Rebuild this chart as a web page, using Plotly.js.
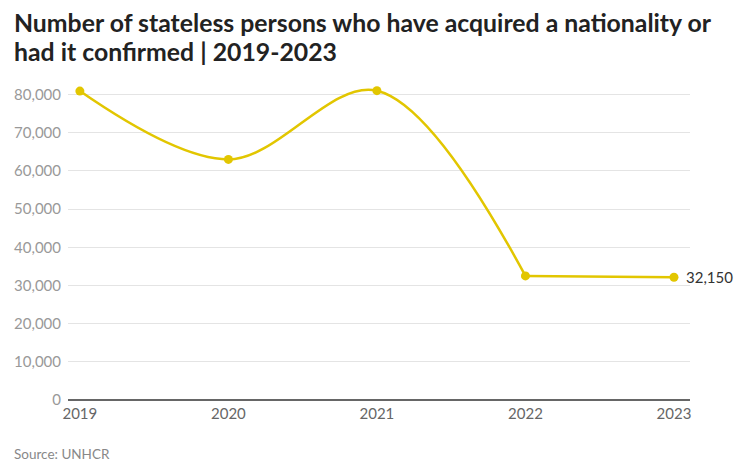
<!DOCTYPE html>
<html>
<head>
<meta charset="utf-8">
<script src="https://cdn.plot.ly/plotly-3.0.1.min.js"></script>
<style>html,body{margin:0;padding:0;background:#fff;}#chart{width:736px;height:461px;}</style>
</head>
<body>
<div id="chart"></div>
<script>
const years = [2019, 2020, 2021, 2022, 2023];
const persons = [80900, 63000, 81000, 32500, 32150];
const yTicks = [0, 10000, 20000, 30000, 40000, 50000, 60000, 70000, 80000];
const yTickLabels = ["0", "10,000", "20,000", "30,000", "40,000", "50,000", "60,000", "70,000", "80,000"];
const lastLabel = "32,150";
const titleLine1 = '<b>Number of stateless persons who have acquired a nationality or</b>';
const titleLine2 = '<b>had it confirmed | 2019-2023</b>';
const sourceText = 'Source: UNHCR';

const W = 736, H = 461, ML = 68, MR = 46, MT = 88, MB = 61;
const PW = W - ML - MR, PH = H - MT - MB;
const px = X => (X - ML) / PW;
const py = Y => (H - MB - Y) / PH;

const color = '#e2c600';
const curve = {
  x: years.slice(0, 4), y: persons.slice(0, 4), type: 'scatter', mode: 'lines',
  line: {color: color, width: 2.5, shape: 'spline', smoothing: 1},
  cliponaxis: false, hoverinfo: 'skip'
};
const flat = {
  x: years.slice(3), y: persons.slice(3), type: 'scatter', mode: 'lines',
  line: {color: color, width: 2.5},
  cliponaxis: false, hoverinfo: 'skip'
};
const pts = {
  x: years, y: persons, type: 'scatter', mode: 'markers',
  marker: {color: color, size: 9},
  cliponaxis: false, hoverinfo: 'skip'
};

const titleFont = {family: 'Lato, sans-serif', size: 24.8, color: '#222'};
const layout = {
  width: W, height: H,
  margin: {l: ML, r: MR, t: MT, b: MB},
  paper_bgcolor: '#fff', plot_bgcolor: '#fff',
  showlegend: false,
  font: {family: 'Lato, sans-serif'},
  xaxis: {
    range: [2018.92, 2023.108],
    tickvals: years, ticktext: years.map(String),
    showgrid: false, zeroline: false, showline: false,
    ticks: '', ticklabelstandoff: 3, tickfont: {size: 15, color: '#666'}
  },
  yaxis: {
    range: [0, 81700],
    tickvals: yTicks, ticktext: yTickLabels,
    showgrid: true, gridcolor: '#e4e4e4', gridwidth: 1,
    zeroline: true, zerolinecolor: '#666', zerolinewidth: 2,
    showline: false, ticks: '', ticklabelstandoff: 6,
    tickfont: {size: 15, color: '#999'}
  },
  annotations: [
    {x: years[years.length-1], y: persons[persons.length-1], xref: 'x', yref: 'y',
     text: lastLabel, showarrow: false, xanchor: 'left', xshift: 10,
     font: {size: 15, color: '#333'}},
    {x: px(12), y: py(22), xref: 'paper', yref: 'paper', xanchor: 'left', yanchor: 'middle',
     text: titleLine1, showarrow: false, font: titleFont},
    {x: px(12), y: py(52), xref: 'paper', yref: 'paper', xanchor: 'left', yanchor: 'middle',
     text: titleLine2, showarrow: false, font: titleFont},
    {x: px(12), y: py(464), xref: 'paper', yref: 'paper', xanchor: 'left', yanchor: 'bottom',
     text: sourceText, showarrow: false, font: {size: 13.5, color: '#888'}}
  ]
};

Plotly.newPlot('chart', [curve, flat, pts], layout, {staticPlot: true, displayModeBar: false});
</script>
</body>
</html>
